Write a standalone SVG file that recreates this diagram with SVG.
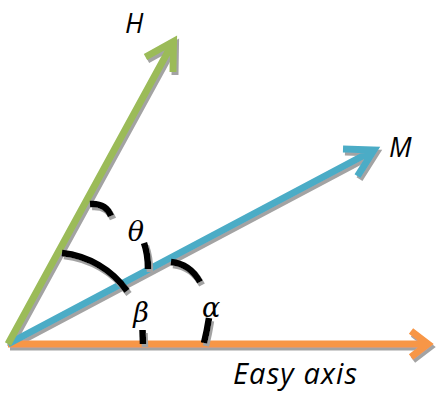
<svg xmlns="http://www.w3.org/2000/svg" width="436" height="393" viewBox="0 0 436 393">
<defs>
<filter id="sh" filterUnits="userSpaceOnUse" x="0" y="0" width="436" height="393">
<feOffset in="SourceAlpha" dx="2" dy="3" result="o"/>
<feFlood flood-color="#a3a3a3"/>
<feComposite in2="o" operator="in" result="s"/>
<feMerge><feMergeNode in="s"/><feMergeNode in="SourceGraphic"/></feMerge>
</filter>
</defs>
<style>
.v{fill:none;stroke-width:7;stroke-linejoin:miter;stroke-miterlimit:10;stroke-linecap:butt}
.arc{fill:none;stroke:#000;stroke-width:6.5;stroke-linecap:butt}
.lbl{font-family:"Open Sans","Liberation Sans",sans-serif;font-style:italic;font-size:27px;fill:#000}
.gk{font-family:"DejaVu Serif","Liberation Serif",serif;font-style:italic;font-size:27px;fill:#000;text-anchor:middle}
</style>
<rect width="436" height="393" fill="#fff"/>
<g id="connectors" filter="url(#sh)">
<path id="easy-axis" class="v" stroke="#F79646" d="M8 344 L428 344 M411 331 L428 344 L411 357"/>
<path id="m-vector" class="v" stroke="#4BACC6" d="M8 344 L374 150 M343 149 L374 150 L357.5 176.2"/>
<path id="h-vector" class="v" stroke="#9BBB59" d="M8 344 L173.5 41.5 M145.5 57 L173.5 41.5 L173 72"/>
</g>
<g id="angles" filter="url(#sh)">
<g id="theta-arc">
<path class="arc" d="M90 204 Q106 203 111 216"/>
<path class="arc" d="M144 243 Q148 254 148 269"/>
</g>
<g id="beta-arc">
<path class="arc" d="M62 253 A92 92 0 0 1 127 291"/>
<path class="arc" d="M142.5 330 L143 344"/>
</g>
<g id="alpha-arc">
<path class="arc" d="M171 262 Q190 264 200 282"/>
<path class="arc" d="M209 318 Q207 331 204 343"/>
</g>
</g>
<g id="labels">
<text id="label-h" class="lbl" x="125" y="33">H</text>
<text id="label-m" class="lbl" x="389" y="157">M</text>
<text id="label-easy" class="lbl" x="233" y="384" style="font-size:29px" textLength="124" lengthAdjust="spacing">Easy axis</text>
<text id="label-theta" class="gk" x="136" y="241">θ</text>
<text id="label-beta" class="gk" x="141" y="322">β</text>
<text id="label-alpha" class="gk" x="211" y="317">α</text>
</g>
</svg>
